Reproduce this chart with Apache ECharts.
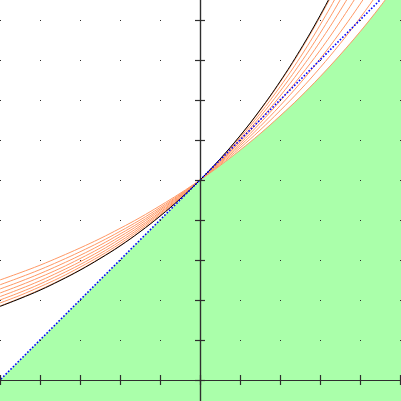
<!DOCTYPE html>
<html>
<head>
<meta charset="utf-8">
<script src="https://cdn.jsdelivr.net/npm/echarts@6/dist/echarts.min.js"></script>
<style>html,body{margin:0;padding:0;background:#fff}#c{width:401px;height:401px}</style>
</head>
<body>
<div id="c"></div>
<script>
// sample x positions
var xs = [-1,-0.9,-0.8,-0.7,-0.6,-0.5,-0.4,-0.3,-0.2,-0.1,0,0.1,0.2,0.3,0.4,0.5,0.6,0.7,0.8,0.9,1];
// exponential curves a^x, one array per base
var bases = [2, 2.1, 2.2, 2.3, 2.4, 2.5, 2.6, 2.7];
var y2_0 = [0.5,0.536,0.574,0.616,0.66,0.707,0.758,0.812,0.871,0.933,1,1.072,1.149,1.231,1.32,1.414,1.516,1.625,1.741,1.866,2];
var y2_1 = [0.476,0.513,0.552,0.595,0.641,0.69,0.743,0.8,0.862,0.928,1,1.077,1.16,1.249,1.346,1.449,1.561,1.681,1.81,1.95,2.1];
var y2_2 = [0.455,0.492,0.532,0.576,0.623,0.674,0.73,0.789,0.854,0.924,1,1.082,1.171,1.267,1.371,1.483,1.605,1.737,1.879,2.033,2.2];
var y2_3 = [0.435,0.473,0.514,0.558,0.607,0.659,0.717,0.779,0.847,0.92,1,1.087,1.181,1.284,1.395,1.517,1.648,1.791,1.947,2.116,2.3];
var y2_4 = [0.417,0.455,0.496,0.542,0.591,0.645,0.705,0.769,0.839,0.916,1,1.091,1.191,1.3,1.419,1.549,1.691,1.846,2.015,2.199,2.4];
var y2_5 = [0.4,0.438,0.48,0.527,0.577,0.632,0.693,0.76,0.833,0.912,1,1.096,1.201,1.316,1.443,1.581,1.733,1.899,2.081,2.281,2.5];
var y2_6 = [0.385,0.423,0.466,0.512,0.564,0.62,0.682,0.751,0.826,0.909,1,1.1,1.211,1.332,1.466,1.612,1.774,1.952,2.148,2.363,2.6];
var y2_7 = [0.37,0.409,0.452,0.499,0.551,0.609,0.672,0.742,0.82,0.905,1,1.104,1.22,1.347,1.488,1.643,1.815,2.004,2.214,2.445,2.7];
var orangeCurves = [y2_0, y2_1, y2_2, y2_3, y2_4, y2_5, y2_6, y2_7];
// e^x
var yExp = [0.368,0.407,0.449,0.497,0.549,0.607,0.67,0.741,0.819,0.905,1,1.105,1.221,1.35,1.492,1.649,1.822,2.014,2.226,2.46,2.718];
// tangent line y = x + 1
var lineX = [-1.2, 1];
var lineY = [-0.2, 2];
// upper boundary of the shaded region
var areaX = [-1.2, 0, 0.1, 0.2, 0.3, 0.4, 0.5, 0.6, 0.7, 0.8, 0.9, 1, 1.1, 1.2];
var areaY = [-0.2, 1, 1.072, 1.149, 1.231, 1.32, 1.414, 1.516, 1.625, 1.741, 1.866, 2, 2.144, 2.297];
// axis ticks
var xMin = -1.2, xMax = 1.2, yMin = -0.2, yMax = 2.0, tickStep = 0.2;

function pairs(x, y) { return x.map(function (v, i) { return [v, y[i]]; }); }

var axisColor = '#2e2e2e';
function xAx(pos, split) {
  return {
    type: 'value', min: xMin, max: xMax, interval: tickStep, position: pos, z: 10,
    axisLine: { show: true, onZero: true, onZeroAxisIndex: 0, lineStyle: { color: axisColor, width: 1.2 } },
    axisTick: { show: true, length: 5, lineStyle: { color: axisColor, width: 1.2 } },
    axisLabel: { show: false },
    splitLine: split ? { show: true, lineStyle: { color: axisColor, width: 1, type: [1, 39] } } : { show: false }
  };
}
function yAx(pos) {
  return {
    type: 'value', min: yMin, max: yMax, interval: tickStep, position: pos, z: 10,
    axisLine: { show: true, onZero: true, onZeroAxisIndex: 0, lineStyle: { color: axisColor, width: 1.2 } },
    axisTick: { show: true, length: 5, lineStyle: { color: axisColor, width: 1.2 } },
    axisLabel: { show: false },
    splitLine: { show: false }
  };
}

var series = [];
series.push({
  type: 'line', data: pairs(areaX, areaY), showSymbol: false, symbol: 'none',
  lineStyle: { width: 0 }, areaStyle: { color: '#aaffaa', opacity: 1, origin: 'start' }, z: 1
});
orangeCurves.forEach(function (ys) {
  series.push({
    type: 'line', data: pairs(xs, ys), showSymbol: false, symbol: 'none', smooth: 0.4,
    lineStyle: { color: '#ff9966', width: 1 }, z: 2
  });
});
series.push({
  type: 'line', data: pairs(xs, yExp), showSymbol: false, symbol: 'none', smooth: 0.4,
  lineStyle: { color: '#000000', width: 1 }, z: 3
});
series.push({
  type: 'line', data: pairs(lineX, lineY), showSymbol: false, symbol: 'none',
  lineStyle: { color: '#0000ff', width: 1.6, type: [1.6, 1.8] }, z: 4
});

var chart = echarts.init(document.getElementById('c'), null, { renderer: 'canvas' });
chart.setOption({
  animation: false,
  backgroundColor: '#ffffff',
  grid: { left: -40, top: -20, width: 480, height: 440, containLabel: false, outerBoundsMode: 'none' },
  xAxis: [xAx('bottom', true), xAx('top', false)],
  yAxis: [yAx('left'), yAx('right')],
  series: series
});
</script>
</body>
</html>
